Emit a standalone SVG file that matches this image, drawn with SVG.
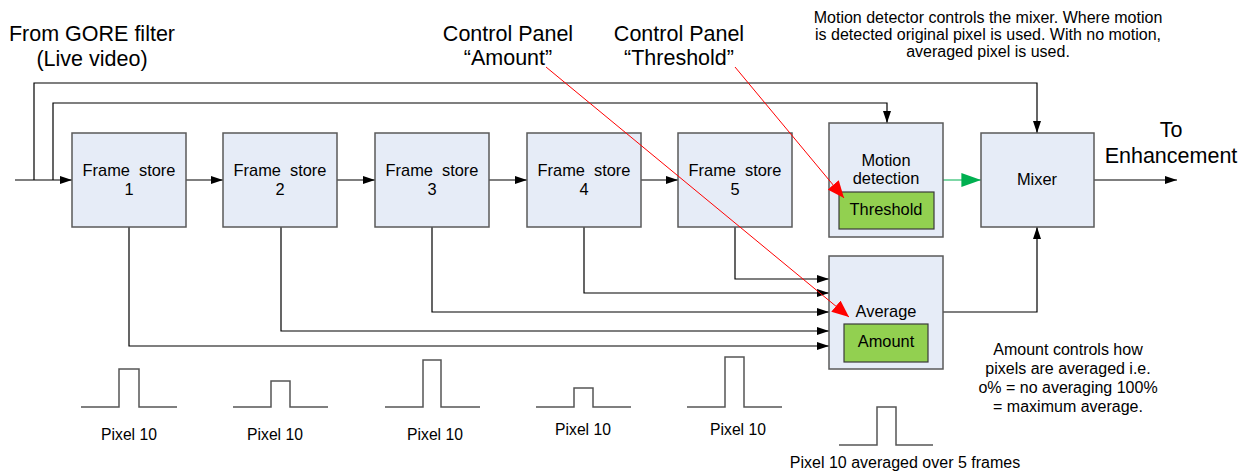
<svg xmlns="http://www.w3.org/2000/svg" width="1249" height="473" viewBox="0 0 1249 473">
<defs>
<marker id="ah" viewBox="0 0 12 8" refX="12" refY="4" markerWidth="12" markerHeight="8" markerUnits="userSpaceOnUse" orient="auto"><path d="M0,0 L12,4 L0,8 z" fill="#000"/></marker>
<marker id="ahg" viewBox="0 0 14 10" refX="14" refY="5" markerWidth="20" markerHeight="14" markerUnits="userSpaceOnUse" orient="auto"><path d="M0,0 L14,5 L0,10 z" fill="#00B050"/></marker>
<marker id="ahr" viewBox="0 0 14 12" refX="14" refY="6" markerWidth="17" markerHeight="15" markerUnits="userSpaceOnUse" orient="auto"><path d="M0,0 L14,6 L0,12 z" fill="#FF0000"/></marker>
</defs>
<style>
.box{fill:#E6ECF7;stroke:#5a5a5a;stroke-width:1.5}
.gbox{fill:#92D050;stroke:#3a3a3a;stroke-width:1.2}
.t{font-family:"Liberation Sans",Arial,sans-serif;fill:#000;text-anchor:middle}
.bl{font-size:16.4px}
.sm{font-size:16px}
.px{font-size:15.7px}
.big{font-size:21.5px}
.ln{fill:none;stroke:#000;stroke-width:1.2}
.pl{fill:none;stroke:#555;stroke-width:1.5}
.red{fill:none;stroke:#FF0000;stroke-width:1}
</style>
<rect width="1249" height="473" fill="#fff"/>
<g id="labels">
<text class="t big" x="92" y="41">From GORE filter</text>
<text class="t big" x="92" y="66">(Live video)</text>
<text class="t big" x="508" y="41">Control Panel</text>
<text class="t big" x="508" y="65">“Amount”</text>
<text class="t big" x="679" y="41">Control Panel</text>
<text class="t big" x="679" y="65">“Threshold”</text>
<text class="t sm" x="988" y="23">Motion detector controls the mixer. Where motion</text>
<text class="t sm" x="988" y="40">is detected original pixel is used. With no motion,</text>
<text class="t sm" x="988" y="57">averaged pixel is used.</text>
<text class="t big" x="1171" y="137">To</text>
<text class="t big" x="1171" y="163">Enhancement</text>
<text class="t sm" x="1068" y="355">Amount controls how</text>
<text class="t sm" x="1068" y="374">pixels are averaged i.e.</text>
<text class="t sm" x="1068" y="393">o% = no averaging 100%</text>
<text class="t sm" x="1068" y="412">= maximum average.</text>
</g>
<g id="connectors">
<line class="ln" x1="15" y1="180" x2="72" y2="180" marker-end="url(#ah)"/>
<polyline class="ln" points="34,180 34,83 1037,83 1037,133" marker-end="url(#ah)"/>
<polyline class="ln" points="53,180 53,103 887,103 887,123" marker-end="url(#ah)"/>
<line class="ln" x1="186" y1="180" x2="223" y2="180" marker-end="url(#ah)"/>
<line class="ln" x1="337" y1="180" x2="375" y2="180" marker-end="url(#ah)"/>
<line class="ln" x1="489" y1="180" x2="527" y2="180" marker-end="url(#ah)"/>
<line class="ln" x1="641" y1="180" x2="678" y2="180" marker-end="url(#ah)"/>
<line x1="943" y1="180" x2="981" y2="180" stroke="#00B050" stroke-width="1.2" marker-end="url(#ahg)"/>
<line class="ln" x1="1094" y1="180" x2="1177" y2="180" marker-end="url(#ah)"/>
<polyline class="ln" points="735,227 735,279 829,279" marker-end="url(#ah)"/>
<polyline class="ln" points="584,227 584,293 829,293" marker-end="url(#ah)"/>
<polyline class="ln" points="432,227 432,312 829,312" marker-end="url(#ah)"/>
<polyline class="ln" points="281,227 281,331 829,331" marker-end="url(#ah)"/>
<polyline class="ln" points="129,227 129,346 829,346" marker-end="url(#ah)"/>
<polyline class="ln" points="943,312 1037,312 1037,227" marker-end="url(#ah)"/>
</g>
<g id="fs1"><rect class="box" x="72" y="133" width="114" height="94"/><text class="t bl" x="129" y="176" xml:space="preserve">Frame  store</text><text class="t bl" x="129" y="195">1</text></g>
<g id="fs2"><rect class="box" x="223" y="133" width="114" height="94"/><text class="t bl" x="280" y="176" xml:space="preserve">Frame  store</text><text class="t bl" x="280" y="195">2</text></g>
<g id="fs3"><rect class="box" x="375" y="133" width="114" height="94"/><text class="t bl" x="432" y="176" xml:space="preserve">Frame  store</text><text class="t bl" x="432" y="195">3</text></g>
<g id="fs4"><rect class="box" x="527" y="133" width="114" height="94"/><text class="t bl" x="584" y="176" xml:space="preserve">Frame  store</text><text class="t bl" x="584" y="195">4</text></g>
<g id="fs5"><rect class="box" x="678" y="133" width="114" height="94"/><text class="t bl" x="735" y="176" xml:space="preserve">Frame  store</text><text class="t bl" x="735" y="195">5</text></g>
<g id="motion"><rect class="box" x="829" y="123" width="114" height="114"/><text class="t bl" x="886" y="166">Motion</text><text class="t bl" x="886" y="184">detection</text><rect class="gbox" x="839" y="192" width="95" height="37"/><text class="t bl" x="886" y="215">Threshold</text></g>
<g id="mixer"><rect class="box" x="981" y="133" width="113" height="94"/><text class="t bl" x="1037" y="185">Mixer</text></g>
<g id="average"><rect class="box" x="829" y="256" width="114" height="113"/><text class="t bl" x="886" y="317">Average</text><rect class="gbox" x="844" y="324" width="84" height="38"/><text class="t bl" x="886" y="347">Amount</text></g>
<g id="control-connectors">
<line class="red" x1="546" y1="67" x2="849" y2="317" marker-end="url(#ahr)"/>
<line class="red" x1="735" y1="67" x2="844" y2="198" marker-end="url(#ahr)"/>
</g>
<g id="pulses">
<polyline class="pl" points="81,407 119,407 119,369 139,369 139,407 177,407"/>
<text class="t px" x="129" y="440">Pixel 10</text>
<polyline class="pl" points="233,407 271,407 271,381 290,381 290,407 328,407"/>
<text class="t px" x="275" y="440">Pixel 10</text>
<polyline class="pl" points="385,407 423,407 423,360 441,360 441,407 480,407"/>
<text class="t px" x="435" y="440">Pixel 10</text>
<polyline class="pl" points="536,407 574,407 574,388 593,388 593,407 631,407"/>
<text class="t px" x="583" y="435">Pixel 10</text>
<polyline class="pl" points="687,407 725,407 725,357 744,357 744,407 782,407"/>
<text class="t px" x="738" y="435">Pixel 10</text>
<polyline class="pl" points="839,445 877,445 877,407 896,407 896,445 933,445"/>
<text class="t sm" x="905" y="468">Pixel 10 averaged over 5 frames</text>
</g>
</svg>
